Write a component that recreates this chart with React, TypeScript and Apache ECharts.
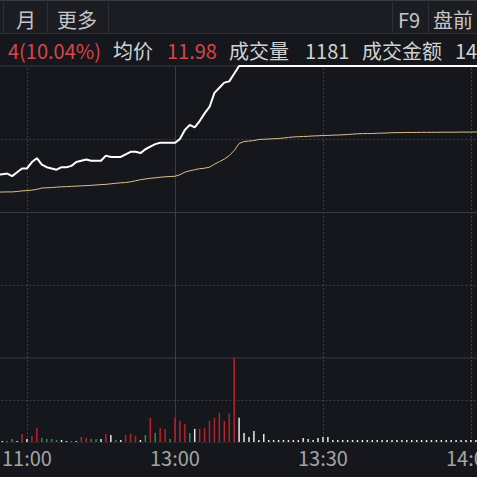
import React, { useEffect, useRef } from 'react';
import * as echarts from 'echarts';

// ---- data ----
const PREV_CLOSE = 11.35;
const LIMIT_UP = 12.49;
const LIMIT_DOWN = 10.21;
const TICK_LABELS = ['11:00', '13:00', '13:30', '14:00'];
const START_MINUTE = 84; // minutes after 09:30 of the first visible point (10:54)

const PRICE = [
  11.64, 11.645, 11.65, 11.63, 11.66, 11.69, 11.69, 11.74, 11.77, 11.72,
  11.70, 11.69, 11.68, 11.70, 11.70, 11.71, 11.74, 11.75, 11.76, 11.75,
  11.75, 11.75, 11.79, 11.78, 11.78, 11.78, 11.80, 11.82, 11.82, 11.81,
  11.84, 11.86, 11.88, 11.89, 11.89, 11.89, 11.89, 11.92, 11.99, 12.03,
  12.01, 12.06, 12.12, 12.17, 12.28, 12.32, 12.36, 12.37, 12.43, 12.49,
  12.49, 12.49, 12.49, 12.49, 12.49, 12.49, 12.49, 12.49, 12.49, 12.49,
  12.49, 12.49, 12.49, 12.49, 12.49, 12.49, 12.49, 12.49, 12.49, 12.49,
  12.49, 12.49, 12.49, 12.49, 12.49, 12.49, 12.49, 12.49, 12.49, 12.49,
  12.49, 12.49, 12.49, 12.49, 12.49, 12.49, 12.49, 12.49, 12.49, 12.49,
  12.49, 12.49, 12.49, 12.49, 12.49, 12.49, 12.49, 12.49, 12.49,
];

const AVG = [
  11.505, 11.506, 11.507, 11.507, 11.510, 11.515, 11.517, 11.521, 11.527, 11.537,
  11.539, 11.541, 11.544, 11.547, 11.548, 11.550, 11.552, 11.554, 11.556, 11.558,
  11.561, 11.564, 11.566, 11.570, 11.574, 11.578, 11.580, 11.586, 11.594, 11.602,
  11.608, 11.613, 11.617, 11.621, 11.625, 11.627, 11.629, 11.641, 11.661, 11.672,
  11.680, 11.688, 11.692, 11.700, 11.723, 11.743, 11.763, 11.790, 11.830, 11.885,
  11.900, 11.904, 11.908, 11.916, 11.918, 11.920, 11.922, 11.924, 11.928, 11.932,
  11.936, 11.938, 11.940, 11.941, 11.944, 11.945, 11.948, 11.948, 11.950, 11.951,
  11.953, 11.955, 11.958, 11.961, 11.962, 11.963, 11.963, 11.965, 11.966, 11.967,
  11.969, 11.970, 11.970, 11.971, 11.971, 11.971, 11.972, 11.972, 11.972, 11.972,
  11.973, 11.973, 11.973, 11.973, 11.974, 11.974, 11.974, 11.975, 11.975,
];

const VOLUME = [
  12, 12, 12, 36, 12, 96, 36, 72, 168, 48,
  36, 36, 24, 24, 12, 12, 12, 60, 48, 36,
  36, 36, 96, 84, 24, 24, 84, 96, 72, 24,
  84, 288, 108, 168, 156, 36, 288, 252, 216, 108,
  156, 156, 168, 252, 288, 348, 252, 336, 1000, 288,
  108, 60, 132, 24, 96, 24, 24, 24, 24, 24,
  24, 24, 48, 36, 24, 48, 60, 60, 24, 24,
  24, 24, 24, 24, 24, 24, 24, 24, 24, 24,
  24, 24, 24, 24, 24, 24, 24, 24, 24, 24,
  24, 24, 24, 24, 24, 24, 24, 24, 24,
];

// u = up (red), d = down (green), f = flat (white)
const DIRECTION = [
  'f', 'f', 'd', 'd', 'f', 'u', 'f', 'u', 'u', 'd',
  'd', 'd', 'd', 'f', 'f', 'd', 'f', 'u', 'u', 'd',
  'd', 'f', 'u', 'f', 'd', 'f', 'u', 'u', 'u', 'f',
  'd', 'u', 'd', 'u', 'u', 'd', 'u', 'u', 'u', 'd',
  'f', 'u', 'u', 'u', 'u', 'u', 'u', 'u', 'u', 'f',
  'f', 'f', 'f', 'f', 'f', 'f', 'f', 'f', 'f', 'f',
  'f', 'f', 'f', 'f', 'f', 'f', 'f', 'f', 'f', 'f',
  'f', 'f', 'f', 'f', 'f', 'f', 'f', 'f', 'f', 'f',
  'f', 'f', 'f', 'f', 'f', 'f', 'f', 'f', 'f', 'f',
  'f', 'f', 'f', 'f', 'f', 'f', 'f', 'f', 'f',
];

const pad = (n: number) => (n < 10 ? '0' + n : '' + n);
const TIMES = PRICE.map((_, i) => {
  const m = START_MINUTE + i;
  let total: number;
  if (m < 120) total = 9 * 60 + 30 + m;
  else total = 13 * 60 + (m - 120);
  return Math.floor(total / 60) + ':' + pad(total % 60);
});

const FONT = '"Noto Sans CJK SC", "Noto Sans", sans-serif';
const BG = '#15171c';
const GRID_SOLID = '#3a3c43';
const GRID_DOT = '#3b3e46';
const RED = '#b5232b';
const GREEN = '#2f8f45';
const WHITE = '#e8e8e8';

export default function App() {
  const ref = useRef<HTMLDivElement>(null);

  useEffect(() => {
    if (!ref.current) return;
    const chart = echarts.init(ref.current, null, { renderer: 'svg' });

    const dotted = { color: GRID_DOT, type: [2, 2] as any, width: 1 };
    const solid = { color: GRID_SOLID, type: 'solid' as any, width: 1 };
    const mlBase = {
      silent: true,
      symbol: ['none', 'none'],
      label: { show: false },
      emphasis: { disabled: true },
      animation: false,
      z: 1,
    };

    const headerText = (text: string, x: number, y: number, fill: string, align = 'left') => ({
      type: 'text',
      x,
      y,
      z: 10,
      style: { text, fill, fontSize: 20, fontFamily: FONT, verticalAlign: 'middle', align },
    });
    const vline = (x: number, y1: number, y2: number, color: string) => ({
      type: 'line',
      z: 9,
      shape: { x1: x, y1, x2: x, y2 },
      style: { stroke: color, lineWidth: 1 },
    });

    chart.setOption({
      animation: false,
      backgroundColor: BG,
      graphic: [
        { type: 'rect', z: 8, shape: { x: 0, y: 0, width: 477, height: 33 }, style: { fill: '#1b1d22' } },
        { type: 'line', z: 9, shape: { x1: 0, y1: 0.5, x2: 477, y2: 0.5 }, style: { stroke: '#3a3c44', lineWidth: 1 } },
        { type: 'line', z: 9, shape: { x1: 0, y1: 33.5, x2: 477, y2: 33.5 }, style: { stroke: '#2e3037', lineWidth: 1 } },
        vline(3.5, 0, 33, '#2e3037'),
        vline(47.5, 0, 33, '#2e3037'),
        vline(108.5, 0, 33, '#2e3037'),
        vline(392.5, 0, 33, '#2e3037'),
        vline(428.5, 0, 33, '#2e3037'),
        headerText('月', 16, 19, '#c6c6c6'),
        headerText('更多', 57, 19, '#c6c6c6'),
        headerText('F9', 398, 19, '#c6c6c6'),
        headerText('盘前', 433, 19, '#c6c6c6'),
        headerText('4(10.04%)', 101, 50, '#d8444b', 'right'),
        headerText('均价', 113, 50, '#d2d2d2'),
        headerText('11.98', 167, 50, '#d8444b'),
        headerText('成交量', 229, 50, '#d2d2d2'),
        headerText('1181', 305, 50, '#d2d2d2'),
        headerText('成交金额', 362, 50, '#d2d2d2'),
        headerText('14', 455, 50, '#d2d2d2'),
      ],
      grid: [
        {
          left: -2.6, right: -3.8, top: 66, height: 292, show: true, borderColor: GRID_SOLID, borderWidth: 1,
          containLabel: false, outerBoundsMode: 'none',
        },
        {
          left: -2.6, right: -3.8, top: 358, height: 84, show: false,
          containLabel: false, outerBoundsMode: 'none',
        },
      ],
      xAxis: [
        {
          type: 'category', gridIndex: 0, data: TIMES, boundaryGap: false,
          axisLine: { show: false }, axisTick: { show: false }, axisLabel: { show: false }, splitLine: { show: false },
        },
        {
          type: 'category', gridIndex: 1, data: TIMES, boundaryGap: false,
          axisLine: { show: true, lineStyle: { color: '#2a2c33', type: [2, 2] } },
          axisTick: { show: false },
          splitLine: { show: false },
          axisLabel: {
            interval: (_: number, value: string) => TICK_LABELS.includes(value),
            color: '#a4a4a4', fontSize: 20, fontFamily: FONT, margin: 5,
          },
        },
      ],
      yAxis: [
        { type: 'value', gridIndex: 0, min: LIMIT_DOWN, max: LIMIT_UP, show: false, splitLine: { show: false } },
        { type: 'value', gridIndex: 1, min: 0, max: 1000, show: false, splitLine: { show: false } },
      ],
      series: [
        {
          type: 'line', name: '均价', xAxisIndex: 0, yAxisIndex: 0, data: AVG,
          showSymbol: false, z: 3, lineStyle: { color: '#dcc08a', width: 1 },
          markLine: {
            ...mlBase,
            data: [
              { yAxis: PREV_CLOSE, lineStyle: solid },
              { yAxis: (PREV_CLOSE + LIMIT_UP) / 2, lineStyle: dotted },
              { yAxis: (PREV_CLOSE + LIMIT_DOWN) / 2, lineStyle: dotted },
              { xAxis: '11:00', lineStyle: dotted },
              { xAxis: '13:00', lineStyle: solid },
              { xAxis: '13:30', lineStyle: dotted },
              { xAxis: '14:00', lineStyle: dotted },
            ],
          },
        },
        {
          type: 'line', name: '价格', xAxisIndex: 0, yAxisIndex: 0, data: PRICE,
          showSymbol: false, z: 4, lineStyle: { color: '#ffffff', width: 2 },
        },
        {
          type: 'bar', name: '成交量', xAxisIndex: 1, yAxisIndex: 1, barWidth: 1.5, z: 3,
          data: VOLUME.map((v, i) => ({
            value: v,
            itemStyle: { color: DIRECTION[i] === 'u' ? RED : DIRECTION[i] === 'd' ? GREEN : WHITE },
          })),
          markLine: {
            ...mlBase,
            data: [
              { yAxis: 500, lineStyle: dotted },
              { xAxis: '11:00', lineStyle: dotted },
              { xAxis: '13:00', lineStyle: solid },
              { xAxis: '13:30', lineStyle: dotted },
              { xAxis: '14:00', lineStyle: dotted },
            ],
          },
        },
      ],
    });

    return () => chart.dispose();
  }, []);

  return <div ref={ref} style={{ position: 'fixed', left: 0, top: 0, width: 477, height: 477 }} />;
}
